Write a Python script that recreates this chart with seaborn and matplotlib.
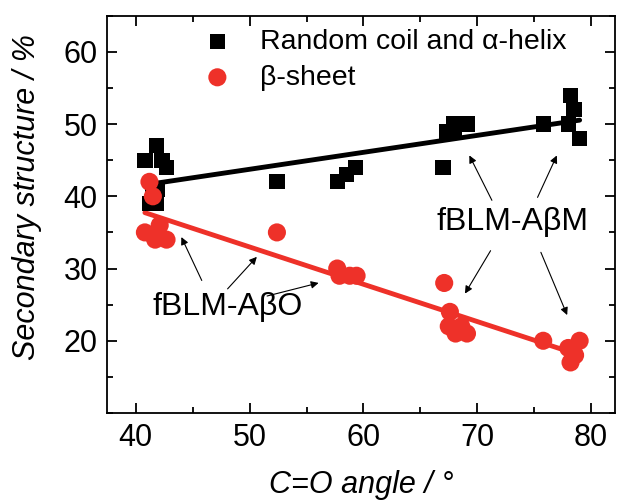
import numpy as np
import pandas as pd
import seaborn as sns
import matplotlib
matplotlib.use('Agg')
import matplotlib.pyplot as plt
from matplotlib.ticker import MultipleLocator

# random coil and alpha-helix (squares)
angle_coil = [40.8, 41.2, 41.8, 41.8, 42.3, 42.7, 41.9, 41.5, 52.4, 57.7, 58.5, 59.3,
              67.0, 67.3, 67.9, 68.0, 69.1, 75.8, 78.0, 78.2, 78.5, 79.0]
coil = [45, 39, 39, 47, 45, 44, 41, 40, 42, 42, 43, 44,
        44, 49, 50, 49, 50, 50, 50, 54, 52, 48]

# beta-sheet (circles)
angle_beta = [41.2, 41.5, 40.8, 42.1, 41.7, 42.7, 52.4, 57.7, 57.9, 58.8, 59.4,
              67.1, 67.6, 67.5, 68.1, 68.6, 69.1, 75.8, 78.0, 78.6, 78.2, 79.0]
beta = [42, 40, 35, 36, 34, 34, 35, 30, 29, 29, 29,
        28, 24, 22, 21, 22, 21, 20, 19, 18, 17, 20]

red = '#ee3129'

df_coil = pd.DataFrame({'angle': angle_coil, 'value': coil})
df_beta = pd.DataFrame({'angle': angle_beta, 'value': beta})

sns.set_style('ticks')
plt.rcParams['font.family'] = ['Liberation Sans', 'DejaVu Sans']
plt.rcParams['text.color'] = 'black'
plt.rcParams['axes.labelcolor'] = 'black'
plt.rcParams['xtick.color'] = 'black'
plt.rcParams['ytick.color'] = 'black'
plt.rcParams['axes.edgecolor'] = 'black'

fig = plt.figure(figsize=(6.18, 5.0), dpi=100)
ax = fig.add_axes([0.1737, 0.174, 0.8213, 0.7946])

sns.regplot(data=df_coil, x='angle', y='value', scatter=False, ci=None,
            color='black', line_kws={'lw': 3.5}, ax=ax)
sns.regplot(data=df_beta, x='angle', y='value', scatter=False, ci=None,
            color=red, line_kws={'lw': 3.5}, ax=ax)
sns.scatterplot(data=df_coil, x='angle', y='value', marker='s', s=120,
                color='black', edgecolor='none', label='Random coil and α-helix', ax=ax, zorder=3)
sns.scatterplot(data=df_beta, x='angle', y='value', marker='o', s=170,
                color=red, edgecolor='none', label='β-sheet', ax=ax, zorder=3)

ax.set_xlim(37.5, 82.1)
ax.set_ylim(10, 65)
ax.xaxis.set_major_locator(MultipleLocator(10))
ax.xaxis.set_minor_locator(MultipleLocator(5))
ax.yaxis.set_major_locator(MultipleLocator(10))
ax.yaxis.set_minor_locator(MultipleLocator(5))
ax.set_yticks([20, 30, 40, 50, 60])
ax.tick_params(which='both', direction='in', top=True, right=True, width=1.3, labelsize=22)
ax.tick_params(which='major', length=7, pad=7)
ax.tick_params(which='minor', length=4)
for sp in ax.spines.values():
    sp.set_linewidth(1.3)

ax.set_xlabel('C=O angle / °', fontsize=22, style='italic')
ax.set_ylabel('Secondary structure / %', fontsize=22, style='italic')
ax.xaxis.set_label_coords(0.5, -0.143)
ax.yaxis.set_label_coords(-0.129, 0.544)

leg = ax.legend(loc='upper left', bbox_to_anchor=(0.127, 1.01), frameon=False,
                fontsize=20.5, handletextpad=0.5, labelspacing=0.35, borderaxespad=0.2)

arrow = dict(arrowstyle='-|>', color='black', lw=0.8, mutation_scale=11)
ax.text(73.1, 36.4, 'fBLM-AβM', fontsize=23, ha='center', va='center')
for (x0, y0, x1, y1) in [(71.4, 39.1, 69.2, 46.0), (75.2, 39.5, 77.1, 46.0),
                         (71.3, 32.8, 68.8, 26.2), (75.5, 32.6, 78.0, 23.2)]:
    ax.annotate('', xy=(x1, y1), xytext=(x0, y0), arrowprops=arrow)
ax.text(48.1, 24.7, 'fBLM-AβO', fontsize=23, ha='center', va='center')
for (x0, y0, x1, y1) in [(45.9, 28.0, 43.9, 34.7), (47.9, 26.9, 50.8, 31.9),
                         (51.3, 26.1, 56.3, 28.1)]:
    ax.annotate('', xy=(x1, y1), xytext=(x0, y0), arrowprops=arrow)

fig.savefig('out.png', dpi=100)
